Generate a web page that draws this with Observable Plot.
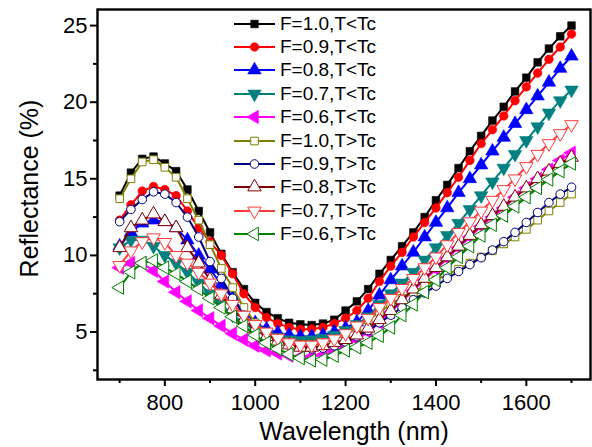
<!DOCTYPE html>
<html><head><meta charset="utf-8">
<script src="https://cdn.jsdelivr.net/npm/d3@7"></script>
<script src="https://cdn.jsdelivr.net/npm/@observablehq/plot@0.6"></script>
<style>
body{margin:0;background:#fff;}
#wrap{position:relative;width:592px;height:447px;font-family:"Liberation Sans",Arial,sans-serif;}
#legend{position:absolute;left:234px;top:12px;}
.row{display:flex;align-items:center;height:23.4px;}
.row span{font-size:19px;margin-left:5px;color:#000;white-space:nowrap;}
.row svg{display:block;}
</style></head><body><div id="wrap"><div id="legend"></div></div>
<script>
const wavelength = [700,725,750,775,800,825,850,875,900,925,950,975,1000,1025,1050,1075,1100,1125,1150,1175,1200,1225,1250,1275,1300,1325,1350,1375,1400,1425,1450,1475,1500,1525,1550,1575,1600,1625,1650,1675,1700];

const f10_below = [13.9,15.4,16.3,16.45,16.0,15.5,14.3,12.9,11.5,10.1,8.9,7.8,6.9,6.3,5.9,5.6,5.5,5.45,5.55,5.8,6.4,7.0,7.8,8.8,9.7,10.6,11.5,12.5,13.6,14.6,15.7,16.8,17.8,18.8,19.7,20.7,21.6,22.6,23.5,24.3,25.0];
const f09_below = [12.3,13.3,14.2,14.5,14.3,13.9,12.9,11.8,10.9,10.0,8.8,7.5,6.6,5.95,5.55,5.3,5.17,5.2,5.3,5.55,5.9,6.4,7.2,8.3,9.3,10.2,11.2,12.15,13.1,14.1,15.1,16.2,17.3,18.2,19.1,20.1,21.0,21.9,22.8,23.6,24.45];
const f08_below = [10.6,11.5,12.1,12.3,12.2,11.8,11.0,10.0,9.1,8.1,7.2,6.3,5.6,5.2,4.95,4.8,4.7,4.7,4.8,5.0,5.25,5.65,6.4,7.4,8.4,9.3,10.2,11.2,12.15,13.1,14.1,15.0,15.9,16.8,17.7,18.6,19.5,20.4,21.3,22.2,23.0];
const f07_below = [10.5,11.0,11.0,10.6,10.0,9.5,8.9,8.2,7.5,6.8,6.1,5.6,5.15,4.85,4.65,4.5,4.45,4.5,4.6,4.8,5.1,5.5,6.0,6.8,7.5,8.2,8.9,9.7,10.5,11.3,12.1,13.0,13.9,14.8,15.7,16.6,17.5,18.4,19.3,20.1,20.8];
const f06_below = [9.2,9.5,9.5,9.0,8.3,7.6,7.0,6.4,5.9,5.4,4.9,4.5,4.1,3.8,3.6,3.45,3.38,3.4,3.5,3.75,4.1,4.5,5.0,5.6,6.3,7.0,7.7,8.4,9.1,9.8,10.5,11.2,11.9,12.5,13.1,13.8,14.4,15.0,15.6,16.2,16.7];
const f10_above = [13.7,15.0,16.1,16.25,15.75,15.1,13.7,12.3,10.7,9.15,7.9,6.6,5.6,5.0,4.6,4.35,4.2,4.2,4.3,4.5,4.85,5.3,5.8,6.3,6.8,7.2,7.6,8.0,8.4,8.75,9.1,9.5,9.9,10.3,10.75,11.2,11.7,12.3,12.9,13.45,14.0];
const f09_above = [12.2,13.0,13.65,14.15,14.0,13.45,12.5,11.2,9.6,8.5,7.2,6.1,5.3,4.8,4.4,4.15,4.0,3.9,3.95,4.1,4.35,4.7,5.1,5.6,6.1,6.6,7.1,7.55,8.0,8.5,8.95,9.4,9.85,10.35,10.9,11.5,12.15,12.8,13.45,14.0,14.45];
const f08_above = [10.5,11.8,12.3,12.7,12.2,11.8,10.5,9.5,8.4,7.4,6.5,5.8,5.2,4.7,4.4,4.15,4.0,4.0,4.1,4.3,4.5,4.8,5.25,5.8,6.4,7.1,7.8,8.5,9.2,9.9,10.6,11.3,12.0,12.6,13.2,13.8,14.4,15.0,15.5,16.0,16.4];
const f07_above = [9.35,10.3,10.9,11.15,10.85,10.0,9.5,8.9,8.2,7.5,6.8,6.1,5.5,5.0,4.6,4.3,4.15,4.15,4.3,4.55,4.9,5.4,5.9,6.6,7.2,7.85,8.5,9.2,9.9,10.7,11.5,12.2,12.9,13.6,14.3,15.0,15.8,16.6,17.3,17.95,18.54];
const f06_above = [7.9,8.9,9.5,9.67,9.2,8.8,8.3,7.8,7.2,6.6,6.0,5.4,4.8,4.3,3.9,3.55,3.3,3.15,3.2,3.45,3.8,4.0,4.3,4.75,5.3,6.1,6.8,7.6,8.4,9.2,9.9,10.6,11.3,12.0,12.6,13.2,13.8,14.4,14.95,15.5,16.0];

const seriesLabels = ["F=1.0,T<Tc","F=0.9,T<Tc","F=0.8,T<Tc","F=0.7,T<Tc","F=0.6,T<Tc","F=1.0,T>Tc","F=0.9,T>Tc","F=0.8,T>Tc","F=0.7,T>Tc","F=0.6,T>Tc"];
const seriesValues = [f10_below,f09_below,f08_below,f07_below,f06_below,f10_above,f09_above,f08_above,f07_above,f06_above];
const seriesColors = ["#000000","#ff0000","#0000ff","#008080","#ff00ff","#808000","#000080","#800000","#ff3b3b","#008000"];
const seriesShapes = ["square","circle","up","down","left","square","circle","up","down","left"];
const seriesOpen = [false,false,false,false,false,true,true,true,true,true];

const xMajor = [800,1000,1200,1400,1600];
const xMinor = [700,900,1100,1300,1500,1700];
const yMajor = [5,10,15,20,25];
const yMinor = [2.5,7.5,12.5,17.5,22.5];

function triangle(angle){
  const a = angle*Math.PI/180, c = Math.cos(a), s = Math.sin(a);
  return {draw(ctx, size){
    const y = -Math.sqrt(size/(Math.sqrt(3)*3));
    const pts = [[0,2*y],[-Math.sqrt(3)*y,-y],[Math.sqrt(3)*y,-y]].map(([px,py])=>[px*c-py*s, px*s+py*c]);
    ctx.moveTo(pts[0][0],pts[0][1]); ctx.lineTo(pts[1][0],pts[1][1]); ctx.lineTo(pts[2][0],pts[2][1]); ctx.closePath();
  }};
}
const symbolFor = {square: d3.symbolSquare, circle: d3.symbolCircle, up: triangle(0), down: triangle(180), left: triangle(-90)};
const R = {square:4.3, circle:4.3, up:5.0, down:5.0, left:5.0};

const marks = [];
seriesValues.forEach((vals, k) => {
  const data = wavelength.map((w,i)=>({w, r: vals[i]}));
  const col = seriesColors[k], shp = seriesShapes[k];
  marks.push(Plot.line(data,{x:"w",y:"r",stroke:col,strokeWidth:2}));
  marks.push(Plot.dot(data,{x:"w",y:"r",symbol:symbolFor[shp],r:R[shp],fill:seriesOpen[k]?"#fff":col,stroke:col,strokeWidth:seriesOpen[k]?1:0.6}));
});

const chart = Plot.plot({
  width:592, height:447,
  marginLeft:97, marginTop:9, marginRight:2, marginBottom:68,
  style:{fontFamily:'"Liberation Sans",Arial,sans-serif', color:"#000", background:"#fff"},
  x:{domain:[651,1742]},
  y:{domain:[1.9,26.05]},
  marks:[
    ...marks,
    Plot.frame({stroke:"#000",strokeWidth:2.4}),
    Plot.axisX({ticks:xMajor,tickSize:7,tickPadding:8,fontSize:22,label:null,strokeWidth:2,tickFormat:d=>String(d)}),
    Plot.axisX({ticks:xMinor,tickSize:4,label:null,strokeWidth:2,tickFormat:()=>""}),
    Plot.axisY({ticks:yMajor,tickSize:7,tickPadding:3,fontSize:22,label:null,strokeWidth:2,tickFormat:d=>String(d)}),
    Plot.axisY({ticks:yMinor,tickSize:4,label:null,strokeWidth:2,tickFormat:()=>""}),
    Plot.text(["Wavelength (nm)"],{frameAnchor:"bottom",lineAnchor:"middle",textAnchor:"middle",dy:52,dx:10,fontSize:25,fill:"#000"}),
    Plot.text(["Reflectance (%)"],{frameAnchor:"left",lineAnchor:"middle",textAnchor:"middle",rotate:-90,dx:-68,dy:-6,fontSize:25,fill:"#000"})
  ]
});
const wrap = document.getElementById("wrap");
wrap.insertBefore(chart, wrap.firstChild);

const legend = document.getElementById("legend");
seriesLabels.forEach((lab,k)=>{
  const row = document.createElement("div"); row.className="row";
  const svg = d3.create("svg").attr("width",41).attr("height",20);
  const col = seriesColors[k], shp = seriesShapes[k];
  svg.append("line").attr("x1",0).attr("x2",41).attr("y1",10).attr("y2",10).attr("stroke",col).attr("stroke-width",2);
  svg.append("path").attr("transform","translate(20.5,10)")
    .attr("d", d3.symbol(symbolFor[shp], Math.PI*R[shp]*R[shp])())
    .attr("fill", seriesOpen[k]?"#fff":col).attr("stroke",col).attr("stroke-width",seriesOpen[k]?1:0.6);
  row.appendChild(svg.node());
  const sp = document.createElement("span"); sp.textContent = lab; row.appendChild(sp);
  legend.appendChild(row);
});
</script>
</body></html>
